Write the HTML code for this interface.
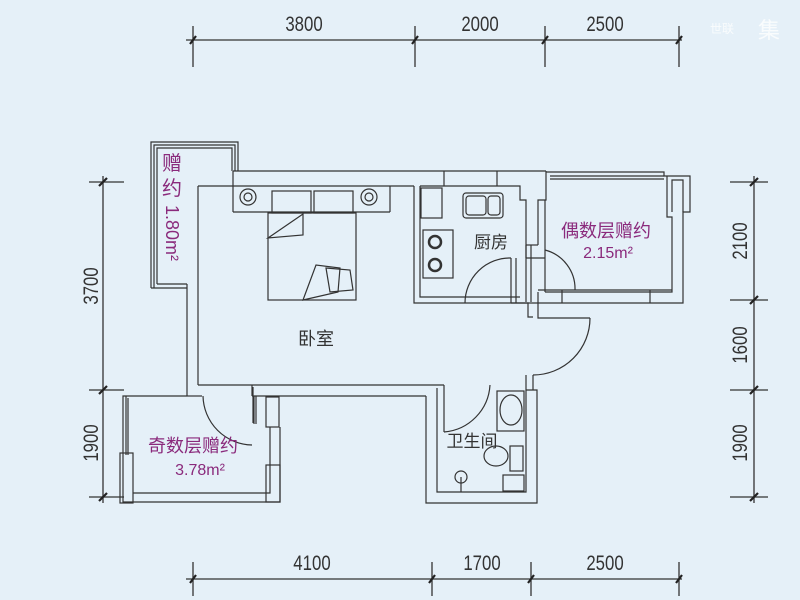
<!DOCTYPE html>
<html><head><meta charset="utf-8"><style>
html,body{margin:0;padding:0;background:#e5f0f8;}
svg{display:block;}
.t{font-family:"Liberation Sans","Noto Sans CJK SC",sans-serif;}
</style></head><body>
<svg width="800" height="600" viewBox="0 0 800 600" xmlns="http://www.w3.org/2000/svg">
<rect width="800" height="600" fill="#e5f0f8"/>
<g stroke="#333" stroke-width="1.3" fill="none">
<line x1="186" y1="40" x2="682" y2="40"/>
<line x1="193" y1="26" x2="193" y2="67"/><line x1="415" y1="26" x2="415" y2="67"/>
<line x1="545" y1="26" x2="545" y2="67"/><line x1="679" y1="26" x2="679" y2="67"/>
<line x1="186" y1="579" x2="682" y2="579"/>
<line x1="193" y1="562" x2="193" y2="596"/><line x1="432" y1="562" x2="432" y2="596"/>
<line x1="531" y1="562" x2="531" y2="596"/><line x1="679" y1="562" x2="679" y2="596"/>
<line x1="103" y1="176" x2="103" y2="503"/>
<line x1="89" y1="182" x2="124" y2="182"/><line x1="89" y1="390" x2="124" y2="390"/><line x1="89" y1="497" x2="124" y2="497"/>
<line x1="754" y1="176" x2="754" y2="503"/>
<line x1="730" y1="182" x2="768" y2="182"/><line x1="730" y1="300" x2="768" y2="300"/>
<line x1="730" y1="390" x2="768" y2="390"/><line x1="730" y1="497" x2="768" y2="497"/>
</g>
<g stroke="#222" stroke-width="2.2">
<line x1="190" y1="44" x2="196" y2="36"/><line x1="412" y1="44" x2="418" y2="36"/><line x1="542" y1="44" x2="548" y2="36"/><line x1="676" y1="44" x2="682" y2="36"/>
<line x1="190" y1="583" x2="196" y2="575"/><line x1="429" y1="583" x2="435" y2="575"/><line x1="528" y1="583" x2="534" y2="575"/><line x1="676" y1="583" x2="682" y2="575"/>
<line x1="99" y1="186" x2="107" y2="178"/><line x1="99" y1="394" x2="107" y2="386"/><line x1="99" y1="501" x2="107" y2="493"/>
<line x1="750" y1="186" x2="758" y2="178"/><line x1="750" y1="304" x2="758" y2="296"/><line x1="750" y1="394" x2="758" y2="386"/><line x1="750" y1="501" x2="758" y2="493"/>
</g>
<g class="t" fill="#333" font-size="21">
<text x="304" y="31" text-anchor="middle" transform="translate(304 0) scale(0.8 1) translate(-304 0)">3800</text>
<text x="480" y="31" text-anchor="middle" transform="translate(480 0) scale(0.8 1) translate(-480 0)">2000</text>
<text x="605" y="31" text-anchor="middle" transform="translate(605 0) scale(0.8 1) translate(-605 0)">2500</text>
<text x="312" y="570" text-anchor="middle" transform="translate(312 0) scale(0.8 1) translate(-312 0)">4100</text>
<text x="482" y="570" text-anchor="middle" transform="translate(482 0) scale(0.8 1) translate(-482 0)">1700</text>
<text x="605" y="570" text-anchor="middle" transform="translate(605 0) scale(0.8 1) translate(-605 0)">2500</text>
<text transform="translate(98 286) rotate(-90) scale(0.8 1)" text-anchor="middle">3700</text>
<text transform="translate(98 443) rotate(-90) scale(0.8 1)" text-anchor="middle">1900</text>
<text transform="translate(747 241) rotate(-90) scale(0.8 1)" text-anchor="middle">2100</text>
<text transform="translate(747 345) rotate(-90) scale(0.8 1)" text-anchor="middle">1600</text>
<text transform="translate(747 443) rotate(-90) scale(0.8 1)" text-anchor="middle">1900</text>
</g>
<g stroke="#333" stroke-width="1.2" fill="none">
<path d="M151 288 V142 H238 V171"/><path d="M154 288 V145 H235 V171"/>
<path d="M157 284 V148 H232 V171"/>
<path d="M157 284 H187"/><path d="M151 288 H187"/>
<line x1="233" y1="171" x2="546" y2="171"/>
<line x1="233" y1="186" x2="414" y2="186"/>
<line x1="233" y1="171" x2="233" y2="212"/>
<line x1="233" y1="212" x2="390" y2="212"/><line x1="390" y1="186" x2="390" y2="212"/>
<line x1="444" y1="171" x2="444" y2="186"/><line x1="497" y1="171" x2="497" y2="186"/>
<line x1="187" y1="284" x2="187" y2="396"/><line x1="198" y1="186" x2="198" y2="385"/>
<line x1="198" y1="186" x2="233" y2="186"/>
<line x1="198" y1="385" x2="444" y2="385"/>
<line x1="187" y1="396" x2="202" y2="396"/>
<line x1="252" y1="396" x2="426" y2="396"/>
<line x1="252" y1="385" x2="252" y2="396"/>
<line x1="253" y1="387" x2="253" y2="423"/>
<line x1="254" y1="396" x2="254" y2="424"/>
<line x1="256" y1="396" x2="256" y2="424"/>
<rect x="266" y="397" width="13" height="30"/>
<path d="M187 396 H123 V502 H280 V427"/>
<path d="M126 396 V455"/><path d="M128 398 V455"/>
<rect x="120" y="453" width="13" height="50"/>
<path d="M133 493 H270 V427"/>
<rect x="266" y="465" width="14" height="37"/>
<path d="M414 186 V303 H535"/>
<path d="M420 186 V297 H520"/>
<path d="M420 186 H520 V200 H526 V258"/>
<path d="M546 171 V200 H538 V245"/>
<path d="M526 245 V302"/><path d="M531 245 V302"/>
<line x1="526" y1="245" x2="538" y2="245"/><line x1="526" y1="258" x2="545" y2="258"/>
<path d="M511 258 V303"/><path d="M516 258 V303"/>
<path d="M511 303 H528 V317 H533"/>
<path d="M538 292 V318 H590"/>
<path d="M465 303 A45 45 0 0 1 511 258" />
<path d="M590 318 A57 57 0 0 1 533 375"/>
<path d="M203 396 A50 50 0 0 0 252 445"/>
<path d="M490 385 A50 50 0 0 1 444 432"/>
<path d="M545 250 A40 40 0 0 1 575 290"/>
<path d="M533 375 V390"/>
<path d="M526 375 V390"/>
<path d="M526 390 H537 V503 H426 V396"/>
<path d="M437 388 V492 H526 V390"/>
<path d="M444 385 V432"/>
<path d="M546 172 H664 V176 H690 V212 H683 V303 H535"/>
<path d="M550 176 H664"/><path d="M550 179 H664"/>
<path d="M667 176 V217 H672 V292 H545"/>
<path d="M683 212 V180 H672 V212"/>
<path d="M538 290 H672"/><path d="M562 290 V303"/><path d="M650 290 V303"/>
<line x1="545" y1="200" x2="545" y2="292"/>
<rect x="268" y="213" width="88" height="87"/>
<rect x="272" y="191" width="39" height="22"/><rect x="314" y="191" width="39" height="22"/>
<path d="M268 238 L303 214 L303 235 Z"/>
<path d="M303 300 L316 265 L340 268 L338 292 Z"/><path d="M326 268 L350 270 L353 290 L330 292 Z"/>
<circle cx="248" cy="197" r="8"/><circle cx="248" cy="197" r="4"/>
<circle cx="369" cy="197" r="8"/><circle cx="369" cy="197" r="4"/>
<rect x="421" y="188" width="21" height="30"/>
<rect x="463" y="193" width="40" height="25" rx="3"/><rect x="466" y="196" width="20" height="19" rx="3"/><rect x="488" y="196" width="12" height="19" rx="3"/>
<rect x="423" y="230" width="30" height="48"/>
<circle cx="435" cy="242" r="6" stroke-width="2.5"/><circle cx="435" cy="265" r="6" stroke-width="2.5"/>
<rect x="497" y="391" width="27" height="40"/><ellipse cx="511" cy="410" rx="11" ry="15"/>
<ellipse cx="496" cy="456" rx="12" ry="10"/><rect x="510" y="446" width="13" height="25"/>
<circle cx="461" cy="477" r="6"/><line x1="461" y1="477" x2="461" y2="492"/>
<rect x="503" y="475" width="21" height="16"/>
</g>
<g class="t" font-size="18">
<text x="316" y="345" fill="#333" text-anchor="middle">卧室</text>
<text x="491" y="248" fill="#333" text-anchor="middle" font-size="17">厨房</text>
<text x="472" y="447" fill="#333" text-anchor="middle" font-size="17">卫生间</text>
<g fill="#8a2a7c">
<text x="162" y="170" font-size="20">赠</text><text x="162" y="195" font-size="20">约</text>
<text transform="translate(166 205) rotate(90)" font-size="18">1.80m²</text>
<text x="193" y="452" text-anchor="middle" font-size="18">奇数层赠约</text>
<text x="200" y="475" text-anchor="middle" font-size="16">3.78m²</text>
<text x="606" y="237" text-anchor="middle" font-size="18">偶数层赠约</text>
<text x="608" y="258" text-anchor="middle" font-size="16">2.15m²</text>
</g>
<text x="710" y="33" fill="#fff" font-size="12" opacity="0.8">世联</text>
<text x="758" y="38" fill="#fff" font-size="22" opacity="0.8">集</text>
</g>
</svg>
</body></html>
